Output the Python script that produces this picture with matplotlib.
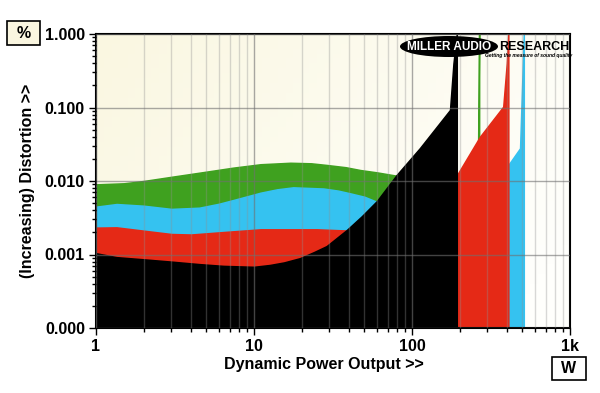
import numpy as np
import matplotlib
matplotlib.use("Agg")
import matplotlib.pyplot as plt
from matplotlib.patches import Ellipse, Rectangle
from matplotlib.ticker import FixedLocator, FixedFormatter, LogLocator, NullFormatter

plt.rcParams['font.family'] = ['Liberation Sans', 'DejaVu Sans']
plt.rcParams['font.weight'] = 'bold'

# power (W) and distortion (%), one curve per load
black_w = [1, 1.35, 2, 3, 4.5, 6.4, 10, 12.6, 15.5, 19.5, 24, 28.8, 38.6, 48, 60, 80, 112, 174, 183, 192]
black_d = [0.00104, 0.00092, 0.00086, 0.00080, 0.00074, 0.00070, 0.00068, 0.00072, 0.00078,
           0.00089, 0.00108, 0.0013, 0.00215, 0.0033, 0.00535, 0.0121, 0.0279, 0.0925, 0.40, 1.0]

green_w = [1, 1.5, 2, 3, 5, 7.4, 11, 17, 23, 29, 38, 47, 60, 80, 120, 193, 262, 266]
green_d = [0.0090, 0.0093, 0.0100, 0.0114, 0.0134, 0.0152, 0.0169, 0.0177, 0.0174, 0.0165,
           0.0154, 0.0141, 0.0131, 0.0118, 0.010, 0.009, 0.028, 1.0]

red_w = [1, 1.35, 2, 3, 4, 6.4, 11, 25, 38.6, 60, 100, 150, 193, 269, 378, 398, 407]
red_d = [0.00232, 0.00234, 0.00211, 0.0019, 0.00187, 0.00202, 0.0022, 0.0022, 0.00212,
         0.004, 0.007, 0.010, 0.0121, 0.040, 0.1026, 0.40, 1.0]

cyan_w = [1, 1.35, 2, 3, 4.5, 6, 7.4, 11, 14, 17.7, 27.5, 34, 40.5, 50, 60, 100, 193, 300, 407, 483, 510]
cyan_d = [0.00447, 0.00486, 0.00461, 0.00417, 0.00433, 0.0049, 0.00551, 0.00693, 0.0077, 0.0082,
          0.0079, 0.0074, 0.0068, 0.0061, 0.0052, 0.007, 0.009, 0.012, 0.0165, 0.0279, 1.0]

x_ticks = [1, 10, 100, 1000]
x_labels = ['1', '10', '100', '1k']
y_ticks = [0.0001, 0.001, 0.01, 0.1, 1]
y_labels = ['0.000', '0.001', '0.010', '0.100', '1.000']

fig = plt.figure(figsize=(6, 3.93), dpi=100)
pos = [96 / 600, 1 - 328 / 393, 474 / 600, 294 / 393]

# cream to white background
bg = fig.add_axes(pos, zorder=0)
u, v = np.meshgrid(np.linspace(0, 1, 60), np.linspace(0, 1, 60))
t = np.clip((u * 0.75 + v * 0.35), 0, 1)[..., None]
c0 = np.array([250, 247, 225]) / 255
c1 = np.array([255, 255, 252]) / 255
bg.imshow(c0 + (c1 - c0) * t, aspect='auto', extent=[0, 1, 0, 1])
bg.axis('off')

ax = fig.add_axes(pos, zorder=1)
ax.patch.set_alpha(0)
ax.set_xscale('log')
ax.set_yscale('log')
ax.set_xlim(1, 1000)
ax.set_ylim(1e-4, 1)

for w, d, col in [(green_w, green_d, '#3fa11f'), (cyan_w, cyan_d, '#35c2f0'),
                  (red_w, red_d, '#e52916'), (black_w, black_d, '#000000')]:
    ax.fill_between(w, 1e-4, d, facecolor=col, edgecolor=col, linewidth=1.1)

ax.xaxis.set_major_locator(FixedLocator(x_ticks))
ax.xaxis.set_major_formatter(FixedFormatter(x_labels))
ax.yaxis.set_major_locator(FixedLocator(y_ticks))
ax.yaxis.set_major_formatter(FixedFormatter(y_labels))
ax.xaxis.set_minor_locator(LogLocator(base=10, subs=np.arange(2, 10), numticks=20))
ax.yaxis.set_minor_locator(LogLocator(base=10, subs=np.arange(2, 10), numticks=20))
ax.xaxis.set_minor_formatter(NullFormatter())
ax.yaxis.set_minor_formatter(NullFormatter())

ax.set_axisbelow(False)
ax.grid(True, which='major', color='#707070', alpha=0.6, linewidth=1)
ax.grid(True, which='minor', axis='x', color='#909090', alpha=0.35, linewidth=1)

ax.tick_params(which='major', length=5, width=1, labelsize=11.5, pad=3)
ax.tick_params(which='minor', length=3, width=1)
for s in ax.spines.values():
    s.set_linewidth(1.5)

ax.set_xlabel('Dynamic Power Output >>', fontsize=11.5, fontweight='bold')
ax.xaxis.set_label_coords(0.48, -0.1)
ax.xaxis.label.set_va('top')
ax.set_ylabel('(Increasing) Distortion >>', fontsize=11.5, fontweight='bold')
ax.yaxis.set_label_coords(-0.128, 0.5)

# unit boxes
fig.patches.append(Rectangle((7 / 600, 1 - 45 / 393), 33 / 600, 24 / 393, transform=fig.transFigure,
                             facecolor='#faf6e0', edgecolor='black', linewidth=1.2))
fig.text(23.5 / 600, 1 - 33 / 393, '%', ha='center', va='center', fontsize=11.5, fontweight='bold')
fig.patches.append(Rectangle((552 / 600, 1 - 380 / 393), 34 / 600, 23 / 393, transform=fig.transFigure,
                             facecolor='white', edgecolor='black', linewidth=1.2))
fig.text(569 / 600, 1 - 368.5 / 393, 'W', ha='center', va='center', fontsize=11.5, fontweight='bold')

# logo
ax.add_patch(Ellipse((449 / 600, 1 - 46.5 / 393), 98 / 600, 21 / 393, transform=fig.transFigure,
                     facecolor='black', edgecolor='none', zorder=5))
fig.text(449 / 600, 1 - 46.5 / 393, 'MILLER AUDIO', ha='center', va='center', color='white',
         fontsize=8.5, fontweight='bold', zorder=6)
fig.text(499 / 600, 1 - 46.5 / 393, 'RESEARCH', ha='left', va='center', color='black',
         fontsize=9, fontweight='bold', zorder=6)
fig.text(529 / 600, 1 - 56 / 393, 'Getting the measure of sound quality', ha='center', va='center',
         color='black', fontsize=3.6, fontweight='bold', style='italic', zorder=6)

fig.savefig('out.png', dpi=100)
